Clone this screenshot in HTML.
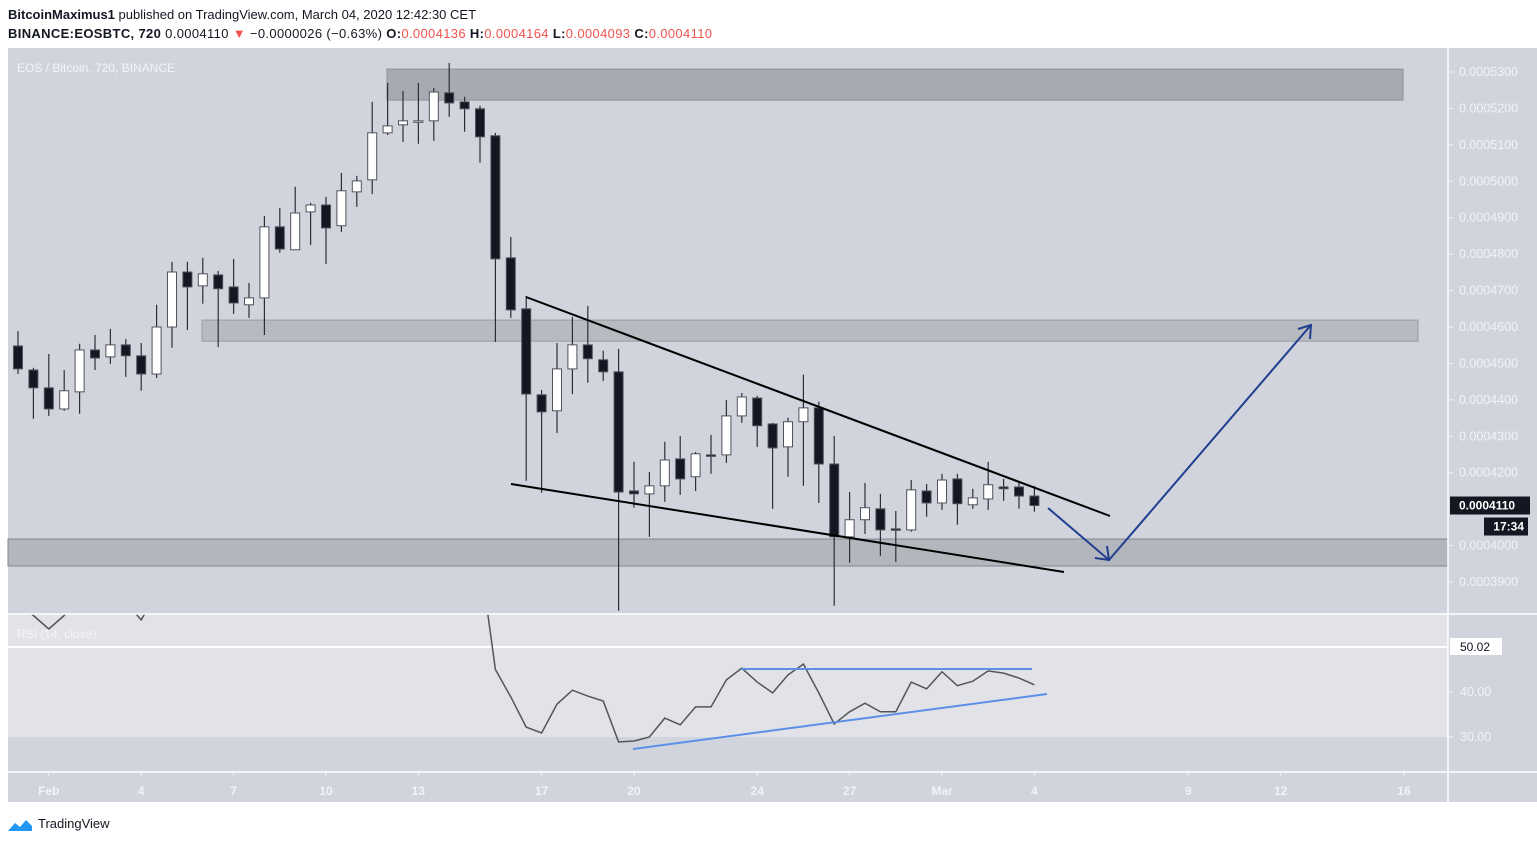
<!DOCTYPE html>
<html><head><meta charset="utf-8"><style>
body{margin:0;background:#fff;width:1537px;height:844px;overflow:hidden;font-family:"Liberation Sans",sans-serif}
svg{display:block}
</style></head><body>
<svg id="chart" width="1537" height="844" xmlns="http://www.w3.org/2000/svg">
<rect x="0" y="0" width="1537" height="844" fill="#fff"/>
<text x="8" y="19" font-size="13" fill="#131722"><tspan font-weight="bold">BitcoinMaximus1</tspan> published on TradingView.com, March 04, 2020 12:42:30 CET</text>
<text x="8" y="38" font-size="13" fill="#131722" textLength="704"><tspan font-weight="bold">BINANCE:EOSBTC, 720</tspan> 0.0004110 <tspan fill="#ef5350">▼</tspan> −0.0000026 (−0.63%) <tspan font-weight="bold">O:</tspan><tspan fill="#ef5350">0.0004136</tspan> <tspan font-weight="bold">H:</tspan><tspan fill="#ef5350">0.0004164</tspan> <tspan font-weight="bold">L:</tspan><tspan fill="#ef5350">0.0004093</tspan> <tspan font-weight="bold">C:</tspan><tspan fill="#ef5350">0.0004110</tspan></text>
<rect x="8" y="48" width="1529" height="754" fill="#d1d4dc"/>
<rect x="8" y="614" width="1440" height="123" fill="#e1e3e8"/>
<g id="zones"></g>
<g id="candles"></g>
<g id="drawings"></g>
<g id="rsi"></g>
<line x1="1448" y1="48" x2="1448" y2="802" stroke="#fff" stroke-width="1.5"/>
<line x1="8" y1="614" x2="1537" y2="614" stroke="#fff" stroke-width="1.5"/>
<line x1="8" y1="772" x2="1537" y2="772" stroke="#fff" stroke-width="1.5"/>
<g id="axes"></g>
<text x="17" y="72" font-size="12" fill="#f4f5f8">EOS / Bitcoin, 720, BINANCE</text>
<text x="17" y="638" font-size="12" fill="#f4f5f8">RSI (14, close)</text>
<g>
<path d="M8 831 l7 -8 l5 4 l6 -7 l6 6 l0 5 z" fill="#2196f3"/>
<text x="38" y="828" font-size="13" fill="#131722">TradingView</text>
</g>
</svg>
<script>
const opens=[4548,4482,4433,4375,4422,4537,4518,4551,4521,4471,4600,4751,4713,4743,4710,4661,4680,4875,4812,4916,4935,4878,4971,5004,5133,5155,5163,5166,5243,5218,5199,5125,4790,4650,4414,4370,4485,4551,4510,4477,4150,4142,4164,4238,4189,4249,4249,4356,4405,4334,4271,4340,4378,4224,4024,4071,4101,4046,4043,4150,4117,4183,4112,4128,4161,4161,4136];
const highs=[4589,4488,4526,4482,4554,4578,4595,4567,4556,4661,4779,4779,4790,4754,4787,4721,4905,4927,4985,4941,4957,5023,5015,5218,5270,5248,5270,5256,5325,5232,5207,5133,4847,4685,4427,4556,4628,4658,4535,4540,4230,4202,4285,4301,4257,4304,4400,4419,4411,4337,4351,4469,4395,4301,4147,4172,4142,4095,4180,4169,4197,4197,4156,4230,4183,4175,4164];
const lows=[4471,4348,4356,4370,4362,4482,4499,4463,4425,4460,4543,4592,4664,4545,4636,4625,4578,4804,4812,4825,4773,4861,4930,4965,5127,5108,5103,5111,5177,5136,5051,4559,4625,4178,4145,4309,4416,4447,4452,3821,4104,4024,4120,4139,4150,4197,4227,4337,4271,4101,4189,4164,4117,3835,3953,4032,3972,3955,4038,4079,4098,4057,4101,4098,4123,4101,4093];
const closes=[4485,4433,4375,4425,4537,4515,4551,4521,4471,4600,4751,4710,4746,4705,4666,4680,4875,4814,4913,4935,4872,4974,5001,5133,5152,5166,5166,5245,5215,5199,5122,4787,4647,4416,4367,4485,4551,4513,4477,4147,4142,4164,4235,4183,4252,4246,4356,4408,4329,4268,4340,4378,4224,4024,4071,4104,4043,4043,4153,4117,4180,4115,4131,4167,4156,4136,4110];
const rsiValues=[60,57,54,57,62,60,63,60,56,62,66,65,66,64,62,63,68,66,69,70,67,70,71,75,76,77,76,79,76,74,70,45,38.9,32.2,30.9,37.3,40.4,39.1,38,28.9,29.1,30,34.2,32.7,36.7,36.7,42.7,45.3,42.2,39.8,43.8,46.2,39.8,32.9,35.6,37.5,35.6,35.6,42.2,40.7,44.5,41.4,42.4,44.7,44.2,43.1,41.6];
const priceTicks=[5300,5200,5100,5000,4900,4800,4700,4600,4500,4400,4300,4200,4100,4000,3900];
const rsiTicks=[40,30];
const dateLabels=["Feb","4","7","10","13","17","20","24","27","Mar","4","9","12","16"];
const dateIdx=[2,8,14,20,26,34,40,48,54,60,66,76,82,90];
const zoneTop=[5308,5223,4619,4561,4018,3944];
const NS="http://www.w3.org/2000/svg";
const X=i=>18+15.4*i;
const Y=p=>72+(5300-p)*0.3643;
const RY=v=>737-(v-30)*4.5;
function mk(t,a,parent){const e=document.createElementNS(NS,t);for(const k in a)e.setAttribute(k,a[k]);parent.appendChild(e);return e;}
const zg=document.getElementById('zones');
let z=mk('rect',{x:387,y:Y(zoneTop[0]),width:1016,height:Y(zoneTop[1])-Y(zoneTop[0]),fill:'#a8aab2',stroke:'#8e9099'},zg);


z=mk('rect',{x:202,y:Y(zoneTop[2]),width:1216,height:Y(zoneTop[3])-Y(zoneTop[2]),fill:'#b8bac2',stroke:'#9a9ca4'},zg);


z=mk('rect',{x:8,y:Y(zoneTop[4]),width:1440,height:Y(zoneTop[5])-Y(zoneTop[4]),fill:'#b4b6be',stroke:'#85878f'},zg);


const cg=document.getElementById('candles');
for(let i=0;i<opens.length;i++){
 const x=X(i),o=opens[i],c=closes[i],bull=c>=o;
 const g=mk('g',{},cg);
 
 
 mk('line',{x1:x,x2:x,y1:Y(highs[i]),y2:Y(lows[i]),stroke:'#2a2e39','stroke-width':1.2},g);
 const t=Y(Math.max(o,c)),b=Y(Math.min(o,c));
 mk('rect',{x:x-4.5,y:t,width:9,height:Math.max(b-t,1.5),fill:bull?'#ffffff':'#131722',stroke:'#50535c','stroke-width':1},g);
}
const dg=document.getElementById('drawings');
let l=mk('line',{x1:526,y1:297,x2:1110,y2:516,stroke:'#000','stroke-width':2},dg);


l=mk('line',{x1:511,y1:484,x2:1064,y2:572,stroke:'#000','stroke-width':2},dg);


l=mk('path',{d:'M1048 508 L1109 560 L1311 325 M1095 558 L1109 560 L1107 546 M1298 329 L1311 325 L1310 339',fill:'none',stroke:'#1f3f8f','stroke-width':2},dg);


const rg=document.getElementById('rsi');
mk('clipPath',{id:'rc'},rg).appendChild(document.createElementNS(NS,'rect'));
const cr=rg.querySelector('clipPath rect');cr.setAttribute('x',8);cr.setAttribute('y',614);cr.setAttribute('width',1440);cr.setAttribute('height',158);
mk('line',{x1:8,x2:1448,y1:647,y2:647,stroke:'#fff','stroke-width':2},rg);
let pts=rsiValues.map((v,i)=>X(i)+','+RY(v)).join(' ');
l=mk('polyline',{points:pts,fill:'none',stroke:'#555','stroke-width':1.5,'clip-path':'url(#rc)'},rg);


l=mk('line',{x1:741,y1:669,x2:1032,y2:669,stroke:'#5b8fe8','stroke-width':2},rg);


l=mk('line',{x1:633,y1:749,x2:1047,y2:694,stroke:'#5b8fe8','stroke-width':2},rg);


const ag=document.getElementById('axes');
priceTicks.forEach(p=>{
 mk('line',{x1:1448,x2:1453,y1:Y(p),y2:Y(p),stroke:'#f0f3fa'},ag);
 const t=mk('text',{x:1459,y:Y(p)+4,'font-size':12.5,fill:'#f0f3fa'},ag);
 t.textContent=(p/1e7).toFixed(7);
 
 
});
rsiTicks.forEach(v=>{
 mk('line',{x1:1448,x2:1453,y1:RY(v),y2:RY(v),stroke:'#f0f3fa'},ag);
 const t=mk('text',{x:1460,y:RY(v)+4,'font-size':12.5,fill:'#f0f3fa'},ag);
 t.textContent=v.toFixed(2);
 
 
});
dateLabels.forEach((s,k)=>{
 const x=X(dateIdx[k]);
 mk('line',{x1:x,x2:x,y1:772,y2:776,stroke:'#f0f3fa'},ag);
 const t=mk('text',{x:x,y:795,'font-size':12,'font-weight':'bold',fill:'#f0f3fa','text-anchor':'middle'},ag);
 t.textContent=s;
 
 
});
const last=closes[closes.length-1];
let r=mk('rect',{x:1450,y:Y(last)-9,width:80,height:18,fill:'#131722'},ag);


let t=mk('text',{x:1459,y:Y(last)+4,'font-size':12,'font-weight':'bold',fill:'#fff'},ag);t.textContent=(last/1e7).toFixed(7);
mk('rect',{x:1484,y:Y(last)+12,width:44,height:18,fill:'#131722'},ag);
t=mk('text',{x:1524,y:Y(last)+25,'font-size':12,'font-weight':'bold',fill:'#fff','text-anchor':'end'},ag);t.textContent='17:34';


r=mk('rect',{x:1450,y:638,width:52,height:17,fill:'#fff'},ag);


t=mk('text',{x:1460,y:651,'font-size':12,fill:'#131722'},ag);t.textContent='50.02';
</script>
</body></html>
